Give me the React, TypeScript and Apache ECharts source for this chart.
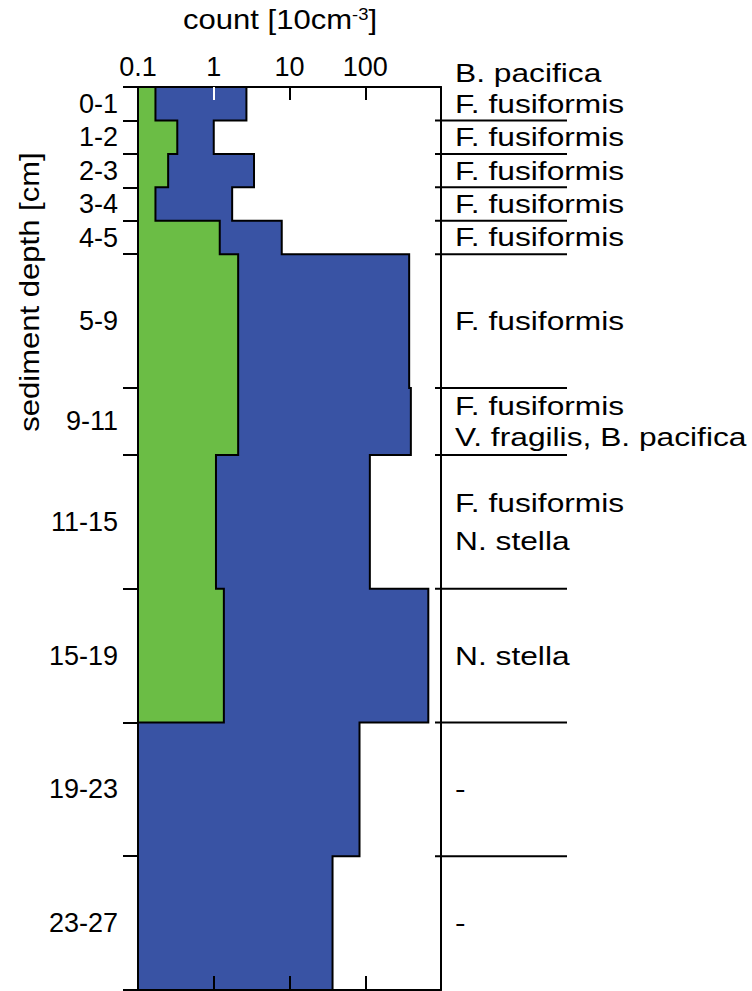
import React, { useEffect, useRef } from 'react';
import * as echarts from 'echarts';

// ---- data ----
const intervalLabels = ['0-1', '1-2', '2-3', '3-4', '4-5', '5-9', '9-11', '11-15', '15-19', '19-23', '23-27'];
const depthTop = [0, 1, 2, 3, 4, 5, 9, 11, 15, 19, 23];
const depthBottom = [1, 2, 3, 4, 5, 9, 11, 15, 19, 23, 27];
const totalCount = [2.7, 1.0, 3.4, 1.75, 7.9, 380, 400, 115, 680, 84, 37];
const greenCount: (number | null)[] = [0.17, 0.33, 0.25, 0.17, 1.2, 2.1, 2.1, 1.07, 1.36, null, null];
const speciesLabels = [
  ['B. pacifica', 'F. fusiformis'],
  ['F. fusiformis'],
  ['F. fusiformis'],
  ['F. fusiformis'],
  ['F. fusiformis'],
  ['F. fusiformis'],
  ['F. fusiformis', 'V. fragilis, B. pacifica'],
  ['F. fusiformis', 'N. stella'],
  ['N. stella'],
  ['-'],
  ['-'],
];
const countTickValues = [0.1, 1, 10, 100];
const countTickLabels = ['0.1', '1', '10', '100'];
const COUNT_MIN = 0.1;
const COUNT_MAX = 1000;
const DEPTH_MAX = 27;

const FONT = '"Liberation Sans", Arial, Helvetica, sans-serif';
const BLUE = '#3953A4';
const GREEN = '#6BBD45';

const boundaries = [depthTop[0], ...depthBottom];
const mids = depthTop.map((t, i) => (t + depthBottom[i]) / 2);

function stepPoints(values: (number | null)[]) {
  const pts: number[][] = [[COUNT_MIN, depthTop[0]]];
  let last = depthTop[0];
  values.forEach((v, i) => {
    if (v == null) return;
    pts.push([v, depthTop[i]]);
    pts.push([v, depthBottom[i]]);
    last = depthBottom[i];
  });
  pts.push([COUNT_MIN, last]);
  return pts;
}

function polygonSeries(values: (number | null)[], color: string, z: number) {
  const pts = stepPoints(values);
  return {
    type: 'custom',
    xAxisIndex: 0,
    yAxisIndex: 0,
    z,
    silent: true,
    data: values.map((v, i) => [v == null ? COUNT_MIN : v, depthTop[i], depthBottom[i]]),
    encode: { x: 0, y: [1, 2] },
    renderItem: (params: any, api: any) => {
      if (params.dataIndex !== 0) return null;
      return {
        type: 'polygon',
        shape: { points: pts.map((p) => api.coord(p)) },
        style: { fill: color, stroke: '#000', lineWidth: 2 },
      };
    },
  };
}

const LH = 31;

export default function App() {
  const ref = useRef<HTMLDivElement>(null);
  useEffect(() => {
    if (!ref.current) return;
    const chart = echarts.init(ref.current, undefined, { renderer: 'svg' });
    const axisLineStyle = { color: '#000', width: 2 };
    const option: any = {
      animation: false,
      backgroundColor: '#fff',
      grid: [
        { left: 138, top: 87, width: 303, height: 903 },
        { left: 435, top: 87, width: 132, height: 903 },
        { left: 138, top: 87, width: 303, height: 903 },
      ],
      xAxis: [
        {
          gridIndex: 0, type: 'log', logBase: 10, min: COUNT_MIN, max: COUNT_MAX, position: 'top', z: 10,
          axisLine: { show: true, onZero: false, lineStyle: axisLineStyle },
          axisTick: { show: true, inside: true, length: 13, customValues: [10, 100], lineStyle: axisLineStyle },
          axisLabel: {
            show: true, customValues: countTickValues, margin: 7,
            fontFamily: FONT, fontSize: 27, color: '#000',
            formatter: (v: number) => {
              const i = countTickValues.findIndex((t) => Math.abs(Math.log10(t) - Math.log10(v)) < 1e-6);
              return i >= 0 ? countTickLabels[i] : '';
            },
          },
          splitLine: { show: false },
        },
        {
          gridIndex: 0, type: 'log', logBase: 10, min: COUNT_MIN, max: COUNT_MAX, position: 'bottom', z: 10,
          axisLine: { show: true, onZero: false, lineStyle: axisLineStyle },
          axisTick: { show: true, inside: true, length: 14, customValues: [1, 10, 100], lineStyle: axisLineStyle },
          axisLabel: { show: false },
          splitLine: { show: false },
        },
        { gridIndex: 1, type: 'value', min: 0, max: 1, show: false },
        {
          gridIndex: 2, type: 'log', logBase: 10, min: COUNT_MIN, max: COUNT_MAX, position: 'top', z: 11,
          axisLine: { show: false, onZero: false },
          axisTick: { show: true, inside: true, length: 13, customValues: [1], lineStyle: { color: '#fff', width: 2 } },
          axisLabel: { show: false },
          splitLine: { show: false },
        },
      ],
      yAxis: [
        {
          gridIndex: 0, type: 'value', inverse: true, min: 0, max: DEPTH_MAX, position: 'left', z: 10,
          axisLine: { show: true, onZero: false, lineStyle: axisLineStyle },
          axisTick: { show: true, inside: false, length: 15, customValues: boundaries, lineStyle: axisLineStyle },
          axisLabel: {
            show: true, customValues: mids, margin: 20,
            fontFamily: FONT, fontSize: 27, color: '#000',
            formatter: (v: number) => {
              const i = mids.findIndex((m) => Math.abs(m - v) < 1e-6);
              return i >= 0 ? intervalLabels[i] : '';
            },
          },
          splitLine: { show: false },
        },
        {
          gridIndex: 0, type: 'value', inverse: true, min: 0, max: DEPTH_MAX, position: 'right', z: 10,
          axisLine: { show: true, onZero: false, lineStyle: axisLineStyle },
          axisTick: { show: false },
          axisLabel: { show: false },
          splitLine: { show: false },
        },
        { gridIndex: 1, type: 'value', inverse: true, min: 0, max: DEPTH_MAX, show: false },
        { gridIndex: 2, type: 'value', inverse: true, min: 0, max: DEPTH_MAX, show: false },
      ],
      graphic: [
        {
          type: 'text', x: 280, y: 20, scaleX: 1.15, z: 20,
          style: {
            text: 'count [10cm{sup|-3}]',
            fontFamily: FONT, fontSize: 27, fill: '#000',
            align: 'center', verticalAlign: 'middle',
            rich: { sup: { fontSize: 16, fontFamily: FONT, fill: '#000', verticalAlign: 'top', padding: [0, 0, 12, 0] } },
          },
        },
        {
          type: 'text', x: 30, y: 292, rotation: Math.PI / 2, scaleX: 1.15, z: 20,
          style: {
            text: 'sediment depth [cm]',
            fontFamily: FONT, fontSize: 27, fill: '#000',
            align: 'center', verticalAlign: 'middle',
          },
        },
      ],
      series: [
        polygonSeries(totalCount, BLUE, 2),
        polygonSeries(greenCount, GREEN, 3),
        {
          type: 'custom',
          xAxisIndex: 2,
          yAxisIndex: 2,
          silent: true,
          clip: false,
          data: depthTop.map((t, i) => [0.5, t, depthBottom[i]]),
          encode: { x: 0, y: [1, 2] },
          renderItem: (params: any, api: any) => {
            const i = params.dataIndex;
            const cs = params.coordSys;
            const yTop = api.coord([0, depthTop[i]])[1];
            const yBot = api.coord([0, depthBottom[i]])[1];
            const lines = speciesLabels[i];
            const h = yBot - yTop;
            const mid = (yTop + yBot) / 2;
            const n = lines.length;
            let firstY: number;
            let step: number;
            if (n * LH > h) {
              step = LH;
              firstY = mid - (n - 1) * LH;
            } else {
              step = Math.min(38, h / 2.2);
              firstY = mid - ((n - 1) * step) / 2;
            }
            const children: any[] = lines.map((t, k) => ({
              type: 'text',
              x: cs.x + 20,
              y: firstY + k * step,
              scaleX: 1.22,
              style: {
                text: t, fill: '#000', fontSize: 26, fontFamily: FONT,
                align: 'left', verticalAlign: 'middle',
              },
            }));
            if (i < depthTop.length - 1) {
              children.push({
                type: 'line',
                shape: { x1: cs.x, y1: yBot, x2: cs.x + cs.width, y2: yBot },
                style: { stroke: '#000', lineWidth: 2 },
              });
            }
            return { type: 'group', children };
          },
        },
      ],
    };
    chart.setOption(option);
    return () => chart.dispose();
  }, []);
  return (
    <div
      ref={ref}
      style={{ position: 'absolute', left: 0, top: 0, width: 752, height: 991, background: '#fff' }}
    />
  );
}
